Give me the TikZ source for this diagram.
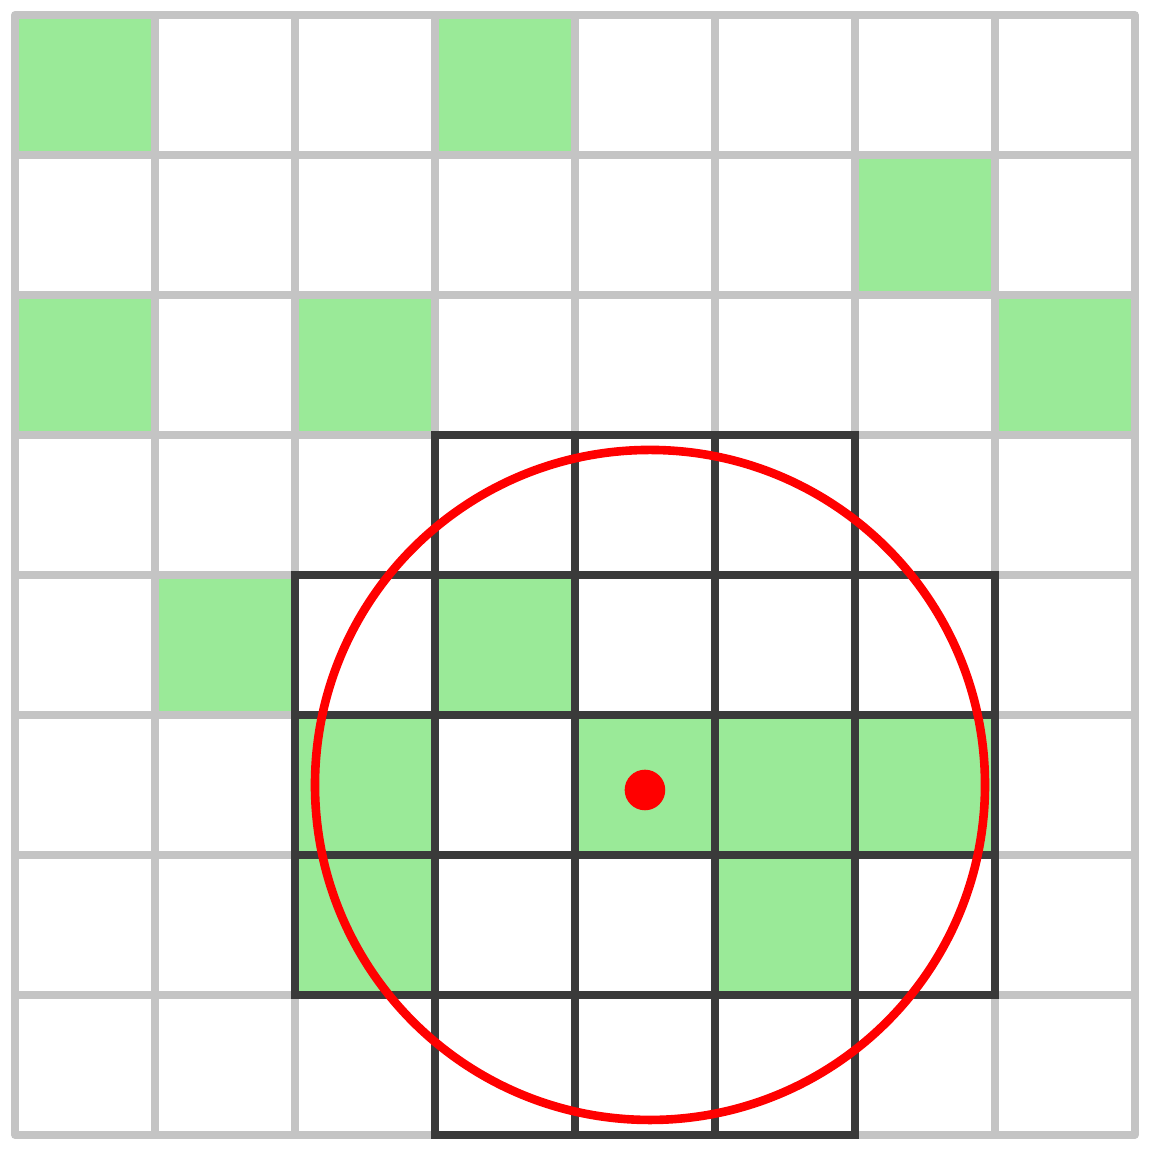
\documentclass[tikz,border=0pt]{standalone}
\usepackage{xcolor}
\usepackage{tikz}
\definecolor{gridgray}{HTML}{C4C4C4}
\definecolor{cellgreen}{HTML}{9AEA98}
\definecolor{darkline}{HTML}{3A3A3A}
\tikzstyle{gridline} = [draw=gridgray, line width=1.6pt, line join=round, line cap=round]
\tikzstyle{filled} = [fill=cellgreen]
\tikzstyle{kernel} = [draw=darkline, line width=1.6pt]
\tikzstyle{ring} = [draw=red, line width=1.75pt]

\begin{document}
\begin{tikzpicture}
    \useasboundingbox (-0.107,-0.179) rectangle (8.164,8.107);
    % Green cells
    \foreach \x/\y in {0/7, 3/7, 6/6, 0/5, 2/5, 7/5, 1/3, 3/3, 2/2, 4/2, 5/2, 6/2, 2/1, 5/1}
        \fill [filled] (\x,\y) rectangle ++(1,1);
    % Grid
    \draw [gridline] (0,0) grid (8,8);
    % Neighbourhood cells
    \foreach \x in {3,4,5}
        \foreach \y in {0,4}
            \draw [kernel] (\x,\y) rectangle ++(1,1);
    \foreach \x in {2,...,6}
        \foreach \y in {1,2,3}
            \draw [kernel] (\x,\y) rectangle ++(1,1);
    % Radius and centre
    \draw [ring] (4.536,2.5) circle (2.393);
    \fill [red] (4.5,2.464) circle (0.145);
\end{tikzpicture}
\end{document}
